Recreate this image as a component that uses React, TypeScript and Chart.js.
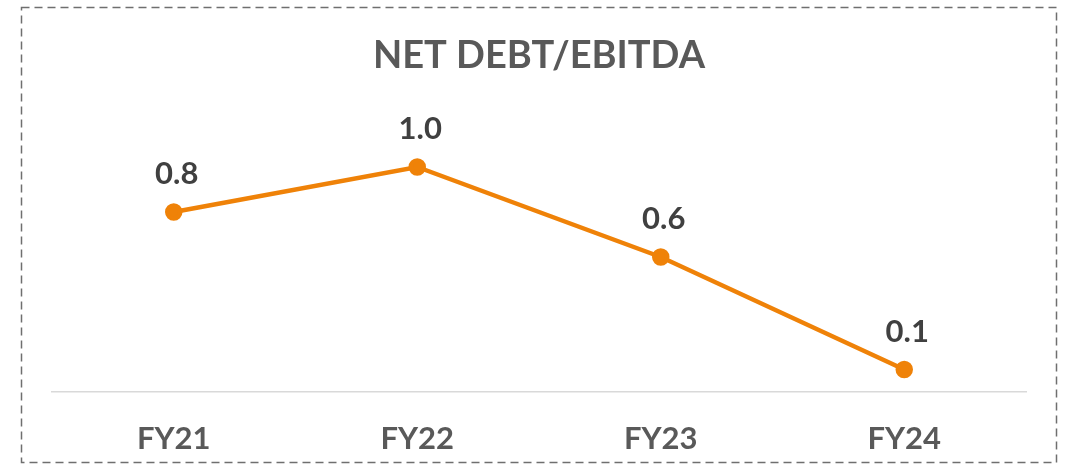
import React, { useEffect, useRef } from "react";
import { Chart, registerables } from "chart.js";

Chart.register(...registerables);

const categories = ["FY21", "FY22", "FY23", "FY24"];
const netDebtToEbitda = [0.8, 1.0, 0.6, 0.1];
const valueLabels = ["0.8", "1.0", "0.6", "0.1"];
const chartTitle = "NET DEBT/EBITDA";

const FONT = "Lato, 'Open Sans', sans-serif";
const ORANGE = "#EF8208";

const borderPlugin = {
  id: "dashedBorder",
  beforeDraw(chart: any) {
    const ctx = chart.ctx;
    ctx.save();
    ctx.fillStyle = "#ffffff";
    ctx.fillRect(0, 0, chart.width, chart.height);
    ctx.strokeStyle = "#6f6f6f";
    ctx.lineWidth = 1.5;
    ctx.setLineDash([8, 5]);
    ctx.strokeRect(21.5, 7.5, 1035, 455);
    ctx.restore();
  },
};

const labelPlugin = {
  id: "valueLabels",
  afterDatasetsDraw(chart: any) {
    const ctx = chart.ctx;
    const meta = chart.getDatasetMeta(0);
    ctx.save();
    ctx.font = `bold 31px ${FONT}`;
    ctx.fillStyle = "#404040";
    ctx.textAlign = "center";
    ctx.textBaseline = "middle";
    meta.data.forEach((pt: any, i: number) => {
      ctx.fillText(valueLabels[i], pt.x + 3, pt.y - 38);
    });
    ctx.restore();
  },
};

export default function App() {
  const ref = useRef<HTMLCanvasElement>(null);
  useEffect(() => {
    if (!ref.current) return;
    const chart = new Chart(ref.current, {
      type: "line",
      data: {
        labels: categories,
        datasets: [
          {
            data: netDebtToEbitda,
            borderColor: ORANGE,
            backgroundColor: ORANGE,
            borderWidth: 4.5,
            pointRadius: 6.5,
            pointHoverRadius: 6.5,
            pointBackgroundColor: ORANGE,
            pointBorderColor: ORANGE,
            tension: 0,
            clip: false as any,
          },
        ],
      },
      options: {
        animation: false,
        responsive: false,
        maintainAspectRatio: false,
        layout: { padding: { left: 52, right: 40, top: 0, bottom: 0 } },
        plugins: {
          legend: { display: false },
          tooltip: { enabled: false },
          title: {
            display: true,
            text: chartTitle,
            color: "#595959",
            font: { family: FONT, size: 38, weight: "bold", lineHeight: 1 },
            padding: { top: 37, bottom: 47 },
          },
        },
        scales: {
          x: {
            offset: true,
            grid: { display: false, drawTicks: false },
            border: { display: true, color: "#d9d9d9", width: 1.5 },
            ticks: {
              color: "#595959",
              font: { family: FONT, size: 31, weight: "bold" },
              padding: 28,
            },
            afterFit(scale: any) {
              scale.height = 73;
            },
          },
          y: {
            display: false,
            min: 0,
            max: 1.2,
          },
        },
      },
      plugins: [borderPlugin, labelPlugin],
    });
    return () => chart.destroy();
  }, []);
  return (
    <div style={{ position: "fixed", left: 0, top: 0, width: 1066, height: 465 }}>
      <canvas ref={ref} width={1066} height={465} style={{ width: 1066, height: 465, display: "block" }} />
    </div>
  );
}
